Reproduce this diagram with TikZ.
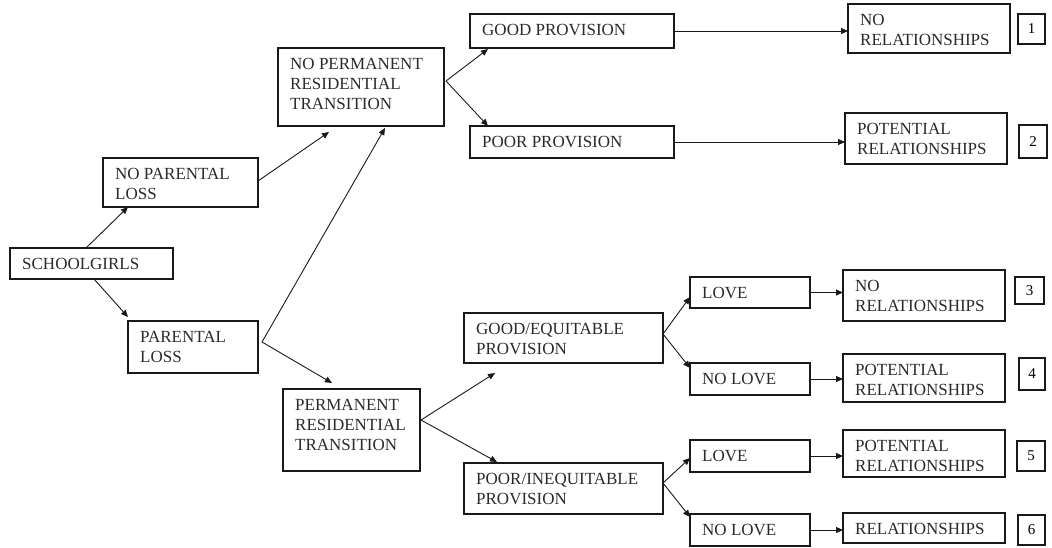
\documentclass[tikz,border=0pt]{standalone}
\usepackage{fontspec}
\setmainfont{Liberation Serif}
\usetikzlibrary{arrows.meta,calc}
\definecolor{ink}{HTML}{2A2A2A}
\tikzset{
  boxst/.style={draw=black!90, line width=1.3pt, inner sep=0pt, outer sep=0pt, fill=none},
  txt/.style={inner sep=0pt, text=ink, font=\fontsize{17}{20}\selectfont},
  numst/.style={draw=black!90, line width=1.3pt, inner sep=0pt, outer sep=0pt, text=black, font=\fontsize{15}{17}\selectfont},
  arr/.style={draw=black!90, line width=0.9pt, -{Triangle[length=7pt,width=6pt]}}
}
\newcommand\mybx[6]{%
  \node[boxst, minimum width=#4pt, minimum height=#5pt, anchor=north west] (#1) at (#2,#3) {};
  \node[txt, anchor=base west] at ($(#1.north west)+(12,21)$) {\begin{tabular}[t]{@{}l@{}}#6\end{tabular}};
}
\newcommand\mynum[6]{%
  \node[numst, minimum width=#4pt, minimum height=#5pt, anchor=north west] (#1) at (#2,#3) {#6};
}
\begin{document}
\begin{tikzpicture}[x=1pt,y=-1pt]
\useasboundingbox (0,0) rectangle (1052,547);
\renewcommand\arraystretch{1}
% boxes
\mybx{sg}{10}{248}{163}{31}{SCHOOLGIRLS}
\mybx{npl}{103}{158}{155}{49}{NO PARENTAL\\LOSS}
\mybx{pl}{128}{321}{130}{52}{PARENTAL\\LOSS}
\mybx{nprt}{278}{48}{166}{78}{NO PERMANENT\\RESIDENTIAL\\TRANSITION}
\mybx{prt}{283}{389}{137}{82}{PERMANENT\\RESIDENTIAL\\TRANSITION}
\mybx{good}{470}{14}{204}{34}{GOOD PROVISION}
\mybx{poor}{470}{126}{204}{32}{POOR PROVISION}
\mybx{ge}{464}{313}{199}{50}{GOOD/EQUITABLE\\PROVISION}
\mybx{pi}{464}{463}{199}{51}{POOR/INEQUITABLE\\PROVISION}
\mybx{lA}{690}{277}{120}{31}{LOVE}
\mybx{nlA}{690}{363}{120}{32}{NO LOVE}
\mybx{lB}{690}{440}{120}{32}{LOVE}
\mybx{nlB}{690}{514}{120}{32}{NO LOVE}
\mybx{rA}{848}{4}{162}{49}{NO\\RELATIONSHIPS}
\mybx{rB}{845}{113}{162}{51}{POTENTIAL\\RELATIONSHIPS}
\mybx{rC}{843}{270}{162}{51}{NO\\RELATIONSHIPS}
\mybx{rD}{843}{354}{162}{48}{POTENTIAL\\RELATIONSHIPS}
\mybx{rE}{843}{430}{162}{47}{POTENTIAL\\RELATIONSHIPS}
\mybx{rF}{843}{513}{162}{30}{RELATIONSHIPS}
\mynum{n1}{1018}{14}{27}{30}{1}
\mynum{n2}{1019}{125}{28}{33}{2}
\mynum{n3}{1015}{277}{29}{27}{3}
\mynum{n4}{1019}{358}{26}{32}{4}
\mynum{n5}{1017}{441}{28}{30}{5}
\mynum{n6}{1018}{515}{27}{30}{6}
% corner points
\coordinate (plc) at ($(pl.north east)+(4,21)$);
\coordinate (nprtc) at ($(nprt.north east)+(2,33)$);
\coordinate (prtc) at ($(prt.north east)+(1,31)$);
\coordinate (gec) at ($(ge.north east)+(0,21)$);
\coordinate (pic) at ($(pi.north east)+(0,20)$);
% connectors
\draw[arr] ($(sg.north west)+(76,0)$) -- ($(npl.south west)+(25,0)$);
\draw[arr] ($(sg.south west)+(84,0)$) -- ($(pl.north west)+(0,-4)$);
\draw[arr] ($(npl.north east)+(0,23)$) -- ($(nprt.south west)+(51,6)$);
\draw[arr] (plc) -- ($(nprt.south west)+(107,2)$);
\draw[arr] (plc) -- ($(prt.north west)+(49,-6)$);
\draw[arr] (nprtc) -- ($(good.south west)+(18,1)$);
\draw[arr] (nprtc) -- ($(poor.north west)+(18,0)$);
\draw[arr] (good.east) -- (good.east -| rA.west);
\draw[arr] (poor.east) -- (poor.east -| rB.west);
\draw[arr] (prtc) -- ($(ge.south west)+(31,10)$);
\draw[arr] (prtc) -- ($(pi.north west)+(33,-1)$);
\draw[arr] (gec) -- ($(lA.north west)+(0,20)$);
\draw[arr] (gec) -- ($(nlA.north west)+(0,5)$);
\draw[arr] (pic) -- ($(lB.north west)+(0,18)$);
\draw[arr] (pic) -- ($(nlB.north west)+(0,3)$);
\draw[arr] (lA.east) -- (lA.east -| rC.west);
\draw[arr] (nlA.east) -- (nlA.east -| rD.west);
\draw[arr] (lB.east) -- (lB.east -| rE.west);
\draw[arr] (nlB.east) -- (nlB.east -| rF.west);
\end{tikzpicture}
\end{document}
